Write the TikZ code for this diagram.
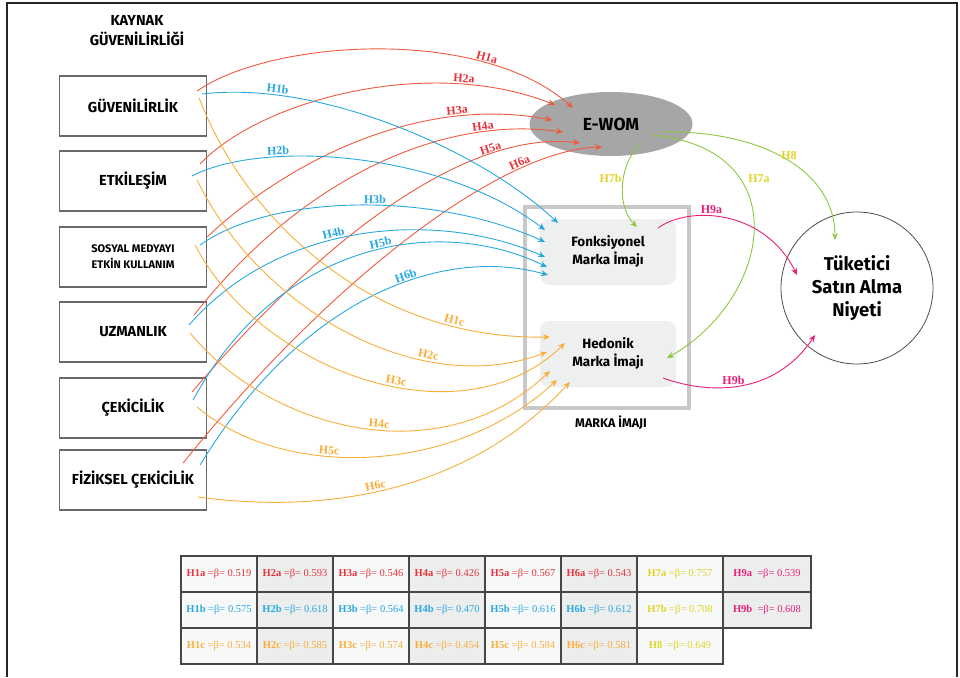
\documentclass[tikz,border=0pt]{standalone}
\usepackage{fontspec}
\setmainfont{Liberation Serif}
\newfontfamily\dinfont{Fira Sans}
\usetikzlibrary{shapes, arrows.meta, positioning}
\definecolor{boxgray}{RGB}{105,105,105}
\definecolor{ewomgray}{RGB}{166,166,166}
\definecolor{imggray}{RGB}{200,200,200}
\definecolor{imgfill}{RGB}{238,240,240}
\definecolor{redln}{RGB}{239,90,60}
\definecolor{redtx}{RGB}{232,50,60}
\definecolor{blueln}{RGB}{41,168,224}
\definecolor{orangeln}{RGB}{250,174,58}
\definecolor{greenln}{RGB}{141,198,63}
\definecolor{yellowtx}{RGB}{222,212,40}
\definecolor{magentaln}{RGB}{233,30,121}
\definecolor{cellA}{RGB}{247,248,248}
\definecolor{cellB}{RGB}{236,238,238}
\definecolor{tabgray}{RGB}{70,70,70}
\tikzstyle{srcbox} = [draw=boxgray, line width=1.2pt, minimum width=147pt, minimum height=60pt, inner sep=0pt, font=\dinfont\bfseries\fontsize{14.5}{17}\selectfont, align=center]
\tikzstyle{imgbox} = [fill=imgfill, rounded corners=9pt, minimum width=136pt, minimum height=66pt, font=\dinfont\bfseries\fontsize{13.5}{18}\selectfont, align=center]
\tikzstyle{hyp} = [line width=0.9pt, -{Stealth[length=7pt,width=6pt]}]
\tikzstyle{lbl} = [font=\bfseries\fontsize{12}{12}\selectfont, inner sep=1.5pt]
\tikzstyle{cell} = [draw=tabgray, line width=1.2pt, minimum height=36pt, inner sep=0pt, font=\fontsize{10.5}{12}\selectfont]

\begin{document}
\begin{tikzpicture}[x=1pt, y=-1pt]
	\useasboundingbox (0,0) rectangle (960,677);
	\draw[line width=1.5pt, black!85] (7,677) -- (7,3) -- (957,3) -- (957,677);

	% kaynak guvenilirligi
	\node[font=\dinfont\bfseries\fontsize{14.5}{20}\selectfont, align=center] (title) at (137,31) {KAYNAK\\GÜVENİLİRLİĞİ};
	\node[srcbox] (guv) at (133,106) {GÜVENİLİRLİK};
	\node[srcbox] (etk) at (133,181) {ETKİLEŞİM};
	\node[srcbox, font=\dinfont\bfseries\fontsize{11}{16}\selectfont] (sos) at (133,257) {SOSYAL MEDYAYI\\ETKİN KULLANIM};
	\node[srcbox] (uzm) at (133,332) {UZMANLIK};
	\node[srcbox] (cek) at (133,408) {ÇEKİCİLİK};
	\node[srcbox] (fiz) at (133,480) {FİZİKSEL ÇEKİCİLİK};

	% marka imaji
	\node[draw=imggray, line width=4pt, minimum width=164pt, minimum height=201pt] (marka) at (607,307.5) {};
	\node[font=\dinfont\bfseries\fontsize{12.5}{14}\selectfont] (markalbl) at (611,423) {MARKA İMAJI};
	\node[imgbox] (fonk) at (608,252) {Fonksiyonel\\Marka İmajı};
	\node[imgbox] (hed) at (608,354) {Hedonik\\Marka İmajı};

	\node[ellipse, fill=ewomgray, minimum width=163pt, minimum height=64pt, font=\dinfont\bfseries\fontsize{17.5}{20}\selectfont] (ewom) at (611,124) {E-WOM};
	\node[circle, draw=black!70, line width=0.8pt, minimum size=152pt, align=center, font=\dinfont\bfseries\fontsize{18.5}{23}\selectfont] (tuk) at (857,288) {Tüketici\\Satın Alma\\Niyeti};

	% H1a - H6a
	\draw[hyp, redln] ([shift={(-10,-15)}]guv.east) .. controls +(73,-51) and +(-93,-83) .. node[lbl, text=redtx, sloped, above, pos=0.75] {H1a} ([shift={(-38,-16)}]ewom.center);
	\draw[hyp, redln] ([shift={(-7,-17)}]etk.east) .. controls +(60,-64) and +(-125,-50) .. node[lbl, text=redtx, sloped, above, pos=0.77] {H2a} ([shift={(-56,-19)}]ewom.center);
	\draw[hyp, redln] ([shift={(0,-20)}]sos.east) .. controls +(82,-77) and +(-132,-25) .. node[lbl, text=redtx, sloped, above, pos=0.76] {H3a} ([shift={(-59,-4)}]ewom.center);
	\draw[hyp, redln] ([shift={(-13,-17)}]uzm.east) .. controls +(106,-135) and +(-123,-17) .. node[lbl, text=redtx, sloped, above, pos=0.79] {H4a} ([shift={(-48,8)}]ewom.center);
	\draw[hyp, redln] ([shift={(-15,-16)}]cek.east) .. controls +(138,-162) and +(-110,-13) .. node[lbl, text=redtx, sloped, above, pos=0.75] {H5a} ([shift={(-31,19)}]ewom.center);
	\draw[hyp, redln] ([shift={(-24,-17)}]fiz.east) .. controls +(147,-183) and +(-102,3) .. node[lbl, text=redtx, sloped, above, pos=0.77] {H6a} ([shift={(-9,23)}]ewom.center);

	% H1b - H6b
	\draw[hyp, blueln] ([shift={(-5,-12)}]guv.east) .. controls +(118,-14) and +(-78,-73) .. node[lbl, text=blueln, sloped, above, pos=0.2] {H1b} ([shift={(-50,-29)}]fonk.center);
	\draw[hyp, blueln] ([shift={(-15,-5)}]etk.east) .. controls +(68,-36) and +(-105,-80) .. node[lbl, text=blueln, sloped, above, pos=0.3] {H2b} ([shift={(-63,-22)}]fonk.center);
	\draw[hyp, blueln] ([shift={(-7,-12)}]sos.east) .. controls +(70,-50) and +(-115,-52) .. node[lbl, text=blueln, sloped, above, pos=0.55] {H3b} ([shift={(-63,-10)}]fonk.center);
	\draw[hyp, blueln] ([shift={(-18,-7)}]uzm.east) .. controls +(91,-105) and +(-105,-47) .. node[lbl, text=blueln, sloped, above, pos=0.43] {H4b} ([shift={(-63,5)}]fonk.center);
	\draw[hyp, blueln] ([shift={(-14,-8)}]cek.east) .. controls +(87,-160) and +(-107,-52) .. node[lbl, text=blueln, sloped, above, pos=0.55] {H5b} ([shift={(-61,15)}]fonk.center);
	\draw[hyp, blueln] ([shift={(-7,-15)}]fiz.east) .. controls +(100,-165) and +(-108,-30) .. node[lbl, text=blueln, sloped, above, pos=0.6] {H6b} ([shift={(-60,23)}]fonk.center);

	% H1c - H6c
	\draw[hyp, orangeln] ([shift={(-8,-8)}]guv.east) .. controls +(51,132) and +(-170,3) .. node[lbl, text=orangeln, sloped, above, pos=0.8] {H1c} ([shift={(-58,-17)}]hed.center);
	\draw[hyp, orangeln] ([shift={(-10,-1)}]etk.east) .. controls +(63,130) and +(-127,48) .. node[lbl, text=orangeln, sloped, above, pos=0.7] {H2c} ([shift={(-61,-2)}]hed.center);
	\draw[hyp, orangeln] ([shift={(-12,-12)}]sos.east) .. controls +(65,125) and +(-105,102) .. node[lbl, text=orangeln, sloped, above, pos=0.57] {H3c} ([shift={(-43,-11)}]hed.center);
	\draw[hyp, orangeln] ([shift={(-17,1)}]uzm.east) .. controls +(80,97) and +(-110,104) .. node[lbl, text=orangeln, sloped, above, pos=0.55] {H4c} ([shift={(-58,17)}]hed.center);
	\draw[hyp, orangeln] ([shift={(-10,-1)}]cek.east) .. controls +(83,71) and +(-107,98) .. node[lbl, text=orangeln, sloped, above, pos=0.4] {H5c} ([shift={(-51,26)}]hed.center);
	\draw[hyp, orangeln] ([shift={(-9,17)}]fiz.east) .. controls +(132,18) and +(-100,108) .. node[lbl, text=orangeln, sloped, above, pos=0.45] {H6c} ([shift={(-38,28)}]hed.center);

	% H7a, H7b, H8
	\draw[hyp, greenln] ([shift={(31,19)}]ewom.center) .. controls +(-22,17) and +(-22,-22) .. node[lbl, text=yellowtx, left, pos=0.45] {H7b} ([shift={(29,-25)}]fonk.center);
	\draw[hyp, greenln] ([shift={(42,11)}]ewom.center) .. controls +(147,15) and +(103,-58) .. node[lbl, text=yellowtx, right=6pt, pos=0.3] {H7a} ([shift={(59,4)}]hed.center);
	\draw[hyp, greenln] ([shift={(51,8)}]ewom.center) .. controls +(98,-2) and +(0,-70) .. node[lbl, text=yellowtx, above, pos=0.52] {H8} ([shift={(-22,-48)}]tuk.center);

	% H9a, H9b
	\draw[hyp, magentaln] ([shift={(50,-24)}]fonk.center) .. controls +(32,-23) and +(-32,-65) .. node[lbl, text=magentaln, above, pos=0.4] {H9a} ([shift={(-60,-13)}]tuk.center);
	\draw[hyp, magentaln] ([shift={(55,24)}]hed.center) .. controls +(47,17) and +(-40,60) .. node[lbl, text=magentaln, above, pos=0.45] {H9b} ([shift={(-42,47)}]tuk.center);

	% katsayilar
	\foreach \i/\shade/\va/\vb/\vc in {1/cellA/0.519/0.575/0.534, 2/cellB/0.593/0.618/0.585, 3/cellA/0.546/0.564/0.574, 4/cellB/0.426/0.470/0.454, 5/cellA/0.567/0.616/0.584, 6/cellB/0.543/0.612/0.581}{
		\node[cell, fill=\shade, text=redtx, minimum width=76pt] (ta\i) at (143+76*\i,574) {\textbf{H\i a} =β= \va};
		\node[cell, fill=\shade, text=blueln, minimum width=76pt] (tb\i) at (143+76*\i,610) {\textbf{H\i b} =β= \vb};
		\node[cell, fill=\shade, text=orangeln, minimum width=76pt] (tc\i) at (143+76*\i,646) {\textbf{H\i c} =β= \vc};
	}
	\node[cell, fill=cellA, text=yellowtx, minimum width=86pt] (ta7) at (680,574) {\textbf{H7a} =β= 0.757};
	\node[cell, fill=cellA, text=yellowtx, minimum width=86pt] (tb7) at (680,610) {\textbf{H7b} =β= 0.708};
	\node[cell, fill=cellA, text=yellowtx, minimum width=86pt] (tc7) at (680,646) {\textbf{H8} \ =β= 0.649};
	\node[cell, fill=cellB, text=magentaln, minimum width=88pt] (ta8) at (767,574) {\textbf{H9a} \ =β= 0.539};
	\node[cell, fill=cellB, text=magentaln, minimum width=88pt] (tb8) at (767,610) {\textbf{H9b} \ =β= 0.608};
\end{tikzpicture}
\end{document}
